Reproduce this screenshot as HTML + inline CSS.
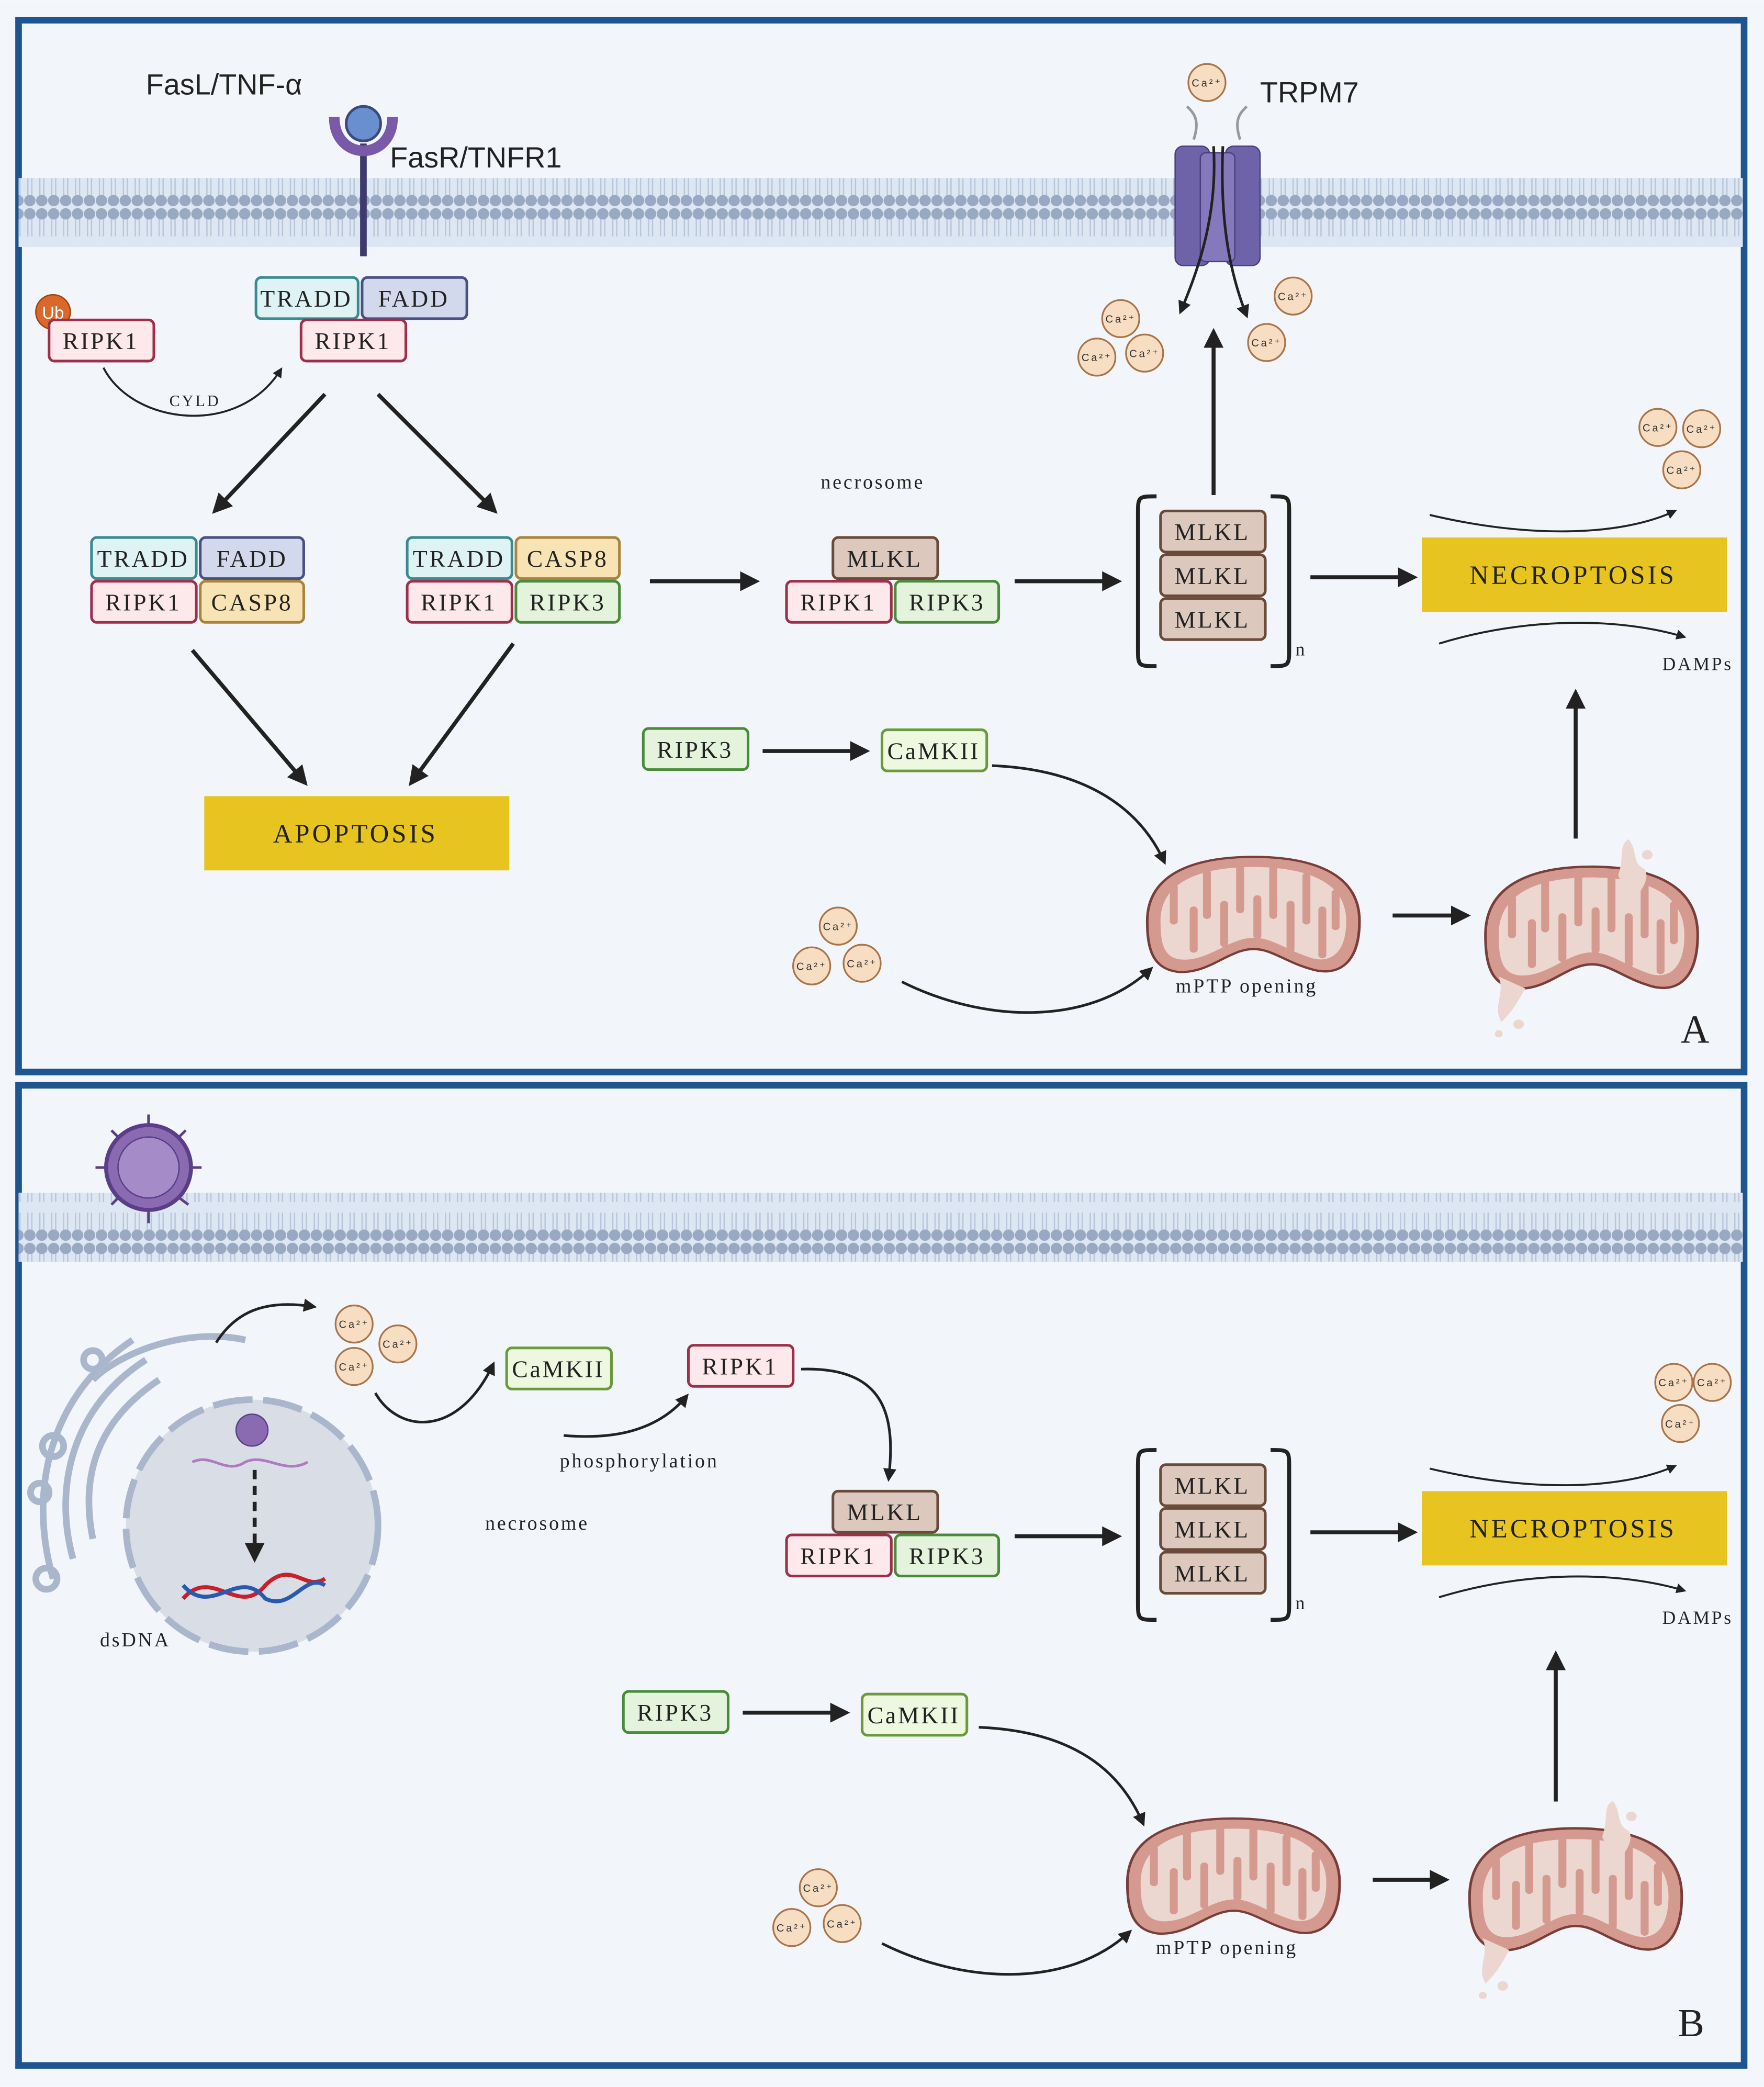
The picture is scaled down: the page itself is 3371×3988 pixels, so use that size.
<!DOCTYPE html>
<html><head><meta charset="utf-8"><style>html,body{margin:0;padding:0;background:#fff}svg{display:block}</style></head>
<body>
<svg xmlns="http://www.w3.org/2000/svg" width="3371" height="3988" viewBox="0 0 1330 1573">
<defs>
<marker id="ah" viewBox="0 0 10 10" refX="8" refY="5" markerWidth="5" markerHeight="5" orient="auto-start-reverse" markerUnits="strokeWidth"><path d="M0,0 L10,5 L0,10 z" fill="#222"/></marker>
<pattern id="mem" x="0" y="0" width="9" height="52" patternUnits="userSpaceOnUse">
<rect width="9" height="52" fill="#dde7f3"/>
<line x1="3" y1="8" x2="3" y2="22" stroke="#b9c6d9" stroke-width="1"/>
<line x1="6" y1="8" x2="6" y2="22" stroke="#b9c6d9" stroke-width="1"/>
<line x1="3" y1="30" x2="3" y2="44" stroke="#b9c6d9" stroke-width="1"/>
<line x1="6" y1="30" x2="6" y2="44" stroke="#b9c6d9" stroke-width="1"/>
<circle cx="4.5" cy="5" r="4.3" fill="#9aa9c2"/>
<circle cx="4.5" cy="47" r="4.3" fill="#9aa9c2"/>
</pattern>
<g id="mito">
<path d="M-80,5 C-80,-40 -40,-52 0,-52 C40,-52 80,-40 80,5 C80,45 62,55 42,47 C22,40 12,28 -3,30 C-20,32 -35,52 -57,50 C-76,47 -80,30 -80,5Z" fill="#d49a90" stroke="#7a3e3a" stroke-width="2"/>
<path d="M-70,5 C-70,-33 -35,-43 0,-43 C35,-43 70,-33 70,5 C70,36 56,43 42,37 C22,29 12,18 -3,20 C-20,22 -35,41 -55,39 C-68,37 -70,24 -70,5Z" fill="#ecd6d0"/>
<g stroke="#d49a90" stroke-width="6" stroke-linecap="round" fill="none">
<line x1="-60" y1="-25" x2="-60" y2="5"/><line x1="-45" y1="30" x2="-45" y2="-5"/><line x1="-35" y1="-38" x2="-35" y2="0"/><line x1="-22" y1="25" x2="-22" y2="-10"/><line x1="-10" y1="-42" x2="-10" y2="-5"/><line x1="3" y1="18" x2="3" y2="-15"/><line x1="15" y1="-42" x2="15" y2="0"/><line x1="28" y1="30" x2="28" y2="-10"/><line x1="40" y1="-35" x2="40" y2="5"/><line x1="52" y1="35" x2="52" y2="-5"/><line x1="62" y1="-20" x2="62" y2="10"/>
</g>
</g>
<g id="dmito">
<use href="#mito"/>
<path d="M20,-45 C25,-60 20,-70 28,-75 C35,-65 30,-55 40,-50 C45,-40 35,-30 30,-20 Z" fill="#ecd6d0"/>
<path d="M-70,40 C-65,55 -75,65 -68,78 C-60,70 -55,60 -50,50 Z" fill="#ecd6d0"/>
<circle cx="-70" cy="88" r="3" fill="#ecd6d0"/><circle cx="-55" cy="80" r="4" fill="#ecd6d0"/><circle cx="42" cy="-62" r="4" fill="#ecd6d0"/>
</g>
<g id="ca"><circle r="14" fill="#f7dec3" stroke="#a8744a" stroke-width="1.3"/><text y="3" text-anchor="middle" font-family="Liberation Sans,sans-serif" font-size="8" fill="#333">Ca²⁺</text></g>
</defs>
<rect width="1330" height="1573" fill="#f3f6fb"/>
<rect x="14" y="15" width="1301" height="793" fill="#f2f6fb" stroke="#1d5590" stroke-width="5"/>
<rect x="14" y="818" width="1301" height="739" fill="#f2f6fb" stroke="#1d5590" stroke-width="5"/>
<rect x="14" y="134" width="1300" height="52" fill="url(#mem)"/>
<rect x="14" y="899" width="1300" height="52" fill="url(#mem)"/>

<g font-family="Liberation Serif,serif" font-size="18" letter-spacing="1.5" text-anchor="middle" fill="#222">
<text x="110" y="71" font-family="Liberation Sans,sans-serif" font-size="22" letter-spacing="0" text-anchor="start">FasL/TNF-α</text>
<line x1="274" y1="108" x2="274" y2="193" stroke="#3f3a6e" stroke-width="5"/>
<path d="M252,88 C252,122 296,122 296,88" fill="none" stroke="#7a5aa8" stroke-width="8"/>
<circle cx="274" cy="93" r="13" fill="#6a8fcf" stroke="#3a4a80" stroke-width="2"/>
<text x="294" y="126" font-family="Liberation Sans,sans-serif" font-size="22" letter-spacing="0" text-anchor="start">FasR/TNFR1</text>
<path d="M900,105 C905,90 900,85 895,80 M935,105 C930,90 935,85 940,80" stroke="#999" stroke-width="2" fill="none"/>
<rect x="886" y="110" width="26" height="90" rx="6" fill="#6e62a8" stroke="#4a4080"/>
<rect x="924" y="110" width="26" height="90" rx="6" fill="#6e62a8" stroke="#4a4080"/>
<rect x="905" y="115" width="26" height="82" rx="4" fill="#8578bd" stroke="#4a4080"/>
<path d="M915,110 C918,160 905,200 890,235" stroke="#222" stroke-width="2" fill="none" marker-end="url(#ah)"/>
<path d="M922,110 C920,160 925,200 940,238" stroke="#222" stroke-width="2" fill="none" marker-end="url(#ah)"/>
<text x="950" y="77" font-family="Liberation Sans,sans-serif" font-size="22" letter-spacing="0" text-anchor="start">TRPM7</text>
<use href="#ca" x="910" y="62"/>
<use href="#ca" x="845" y="240"/><use href="#ca" x="827" y="269"/><use href="#ca" x="863" y="266"/>
<use href="#ca" x="975" y="223"/><use href="#ca" x="955" y="258"/>

<circle cx="40" cy="235" r="13" fill="#d9682a" stroke="#a04010"/>
<text x="40" y="240" font-family="Liberation Sans,sans-serif" font-size="13" fill="#fff" letter-spacing="0">Ub</text>
<rect x="37" y="241" width="79" height="31" rx="4" fill="#fde9ec" stroke="#9e2f48" stroke-width="2"/><text x="76" y="263">RIPK1</text>
<rect x="193" y="209" width="77" height="31" rx="4" fill="#dff3f5" stroke="#3a8a90" stroke-width="2"/><text x="231" y="231">TRADD</text>
<rect x="273" y="209" width="79" height="31" rx="4" fill="#d3d9ec" stroke="#4a5080" stroke-width="2"/><text x="312" y="231">FADD</text>
<rect x="227" y="241" width="79" height="31" rx="4" fill="#fde9ec" stroke="#9e2f48" stroke-width="2"/><text x="266" y="263">RIPK1</text>
<path d="M78,277 C100,320 180,330 212,278" stroke="#222" stroke-width="1.5" fill="none" marker-end="url(#ah)"/>
<text x="147" y="306" font-size="12">CYLD</text>
<line x1="245" y1="297" x2="162" y2="385" stroke="#222" stroke-width="3" marker-end="url(#ah)"/>
<line x1="285" y1="297" x2="373" y2="385" stroke="#222" stroke-width="3" marker-end="url(#ah)"/>

<rect x="69" y="405" width="79" height="31" rx="4" fill="#dff3f5" stroke="#3a8a90" stroke-width="2"/><text x="108" y="427">TRADD</text>
<rect x="151" y="405" width="78" height="31" rx="4" fill="#d3d9ec" stroke="#4a5080" stroke-width="2"/><text x="190" y="427">FADD</text>
<rect x="69" y="438" width="79" height="31" rx="4" fill="#fde9ec" stroke="#9e2f48" stroke-width="2"/><text x="108" y="460">RIPK1</text>
<rect x="151" y="438" width="78" height="31" rx="4" fill="#f8e3b5" stroke="#a8843c" stroke-width="2"/><text x="190" y="460">CASP8</text>
<rect x="307" y="405" width="79" height="31" rx="4" fill="#dff3f5" stroke="#3a8a90" stroke-width="2"/><text x="346" y="427">TRADD</text>
<rect x="389" y="405" width="78" height="31" rx="4" fill="#f8e3b5" stroke="#a8843c" stroke-width="2"/><text x="428" y="427">CASP8</text>
<rect x="307" y="438" width="79" height="31" rx="4" fill="#fde9ec" stroke="#9e2f48" stroke-width="2"/><text x="346" y="460">RIPK1</text>
<rect x="389" y="438" width="78" height="31" rx="4" fill="#e4f3dc" stroke="#4a8a3a" stroke-width="2"/><text x="428" y="460">RIPK3</text>
<line x1="145" y1="490" x2="230" y2="590" stroke="#222" stroke-width="3" marker-end="url(#ah)"/>
<line x1="387" y1="485" x2="310" y2="590" stroke="#222" stroke-width="3" marker-end="url(#ah)"/>
<rect x="154" y="600" width="230" height="56" fill="#e7c41f"/><text x="268" y="635" font-size="20" letter-spacing="2">APOPTOSIS</text>

<line x1="490" y1="438" x2="570" y2="438" stroke="#222" stroke-width="3" marker-end="url(#ah)"/>
<text x="658" y="368" font-size="15">necrosome</text>
<rect x="628" y="405" width="79" height="31" rx="4" fill="#dcc8bd" stroke="#6a4a3a" stroke-width="2"/><text x="667" y="427">MLKL</text>
<rect x="593" y="438" width="79" height="31" rx="4" fill="#fde9ec" stroke="#9e2f48" stroke-width="2"/><text x="632" y="460">RIPK1</text>
<rect x="675" y="438" width="78" height="31" rx="4" fill="#e4f3dc" stroke="#4a8a3a" stroke-width="2"/><text x="714" y="460">RIPK3</text>
<line x1="765" y1="438" x2="843" y2="438" stroke="#222" stroke-width="3" marker-end="url(#ah)"/>
<path d="M872,374 C858,374 858,374 858,388 L858,488 C858,502 858,502 872,502" stroke="#222" stroke-width="3" fill="none"/>
<path d="M958,374 C972,374 972,374 972,388 L972,488 C972,502 972,502 958,502" stroke="#222" stroke-width="3" fill="none"/>
<rect x="875" y="385" width="79" height="31" rx="4" fill="#dcc8bd" stroke="#6a4a3a" stroke-width="2"/><text x="914" y="407">MLKL</text>
<rect x="875" y="418" width="79" height="31" rx="4" fill="#dcc8bd" stroke="#6a4a3a" stroke-width="2"/><text x="914" y="440">MLKL</text>
<rect x="875" y="451" width="79" height="31" rx="4" fill="#dcc8bd" stroke="#6a4a3a" stroke-width="2"/><text x="914" y="473">MLKL</text>
<text x="981" y="494" font-size="14">n</text>
<line x1="915" y1="373" x2="915" y2="250" stroke="#222" stroke-width="3" marker-end="url(#ah)"/>
<line x1="988" y1="435" x2="1066" y2="435" stroke="#222" stroke-width="3" marker-end="url(#ah)"/>
<rect x="1072" y="405" width="230" height="56" fill="#e7c41f"/><text x="1186" y="440" font-size="20" letter-spacing="2">NECROPTOSIS</text>
<path d="M1078,388 C1150,405 1220,405 1263,385" stroke="#222" stroke-width="1.5" fill="none" marker-end="url(#ah)"/>
<path d="M1085,485 C1150,465 1220,465 1270,480" stroke="#222" stroke-width="1.5" fill="none" marker-end="url(#ah)"/>
<text x="1280" y="505" font-size="14">DAMPs</text>
<use href="#ca" x="1250" y="322"/><use href="#ca" x="1283" y="323"/><use href="#ca" x="1268" y="354"/>

<rect x="485" y="549" width="79" height="31" rx="4" fill="#e4f3dc" stroke="#4a8a3a" stroke-width="2"/><text x="524" y="571">RIPK3</text>
<line x1="575" y1="566" x2="653" y2="566" stroke="#222" stroke-width="3" marker-end="url(#ah)"/>
<rect x="665" y="550" width="79" height="31" rx="4" fill="#eef7df" stroke="#6a9a3a" stroke-width="2"/><text x="704" y="572">CaMKII</text>
<path d="M748,577 C820,580 860,610 878,650" stroke="#222" stroke-width="2" fill="none" marker-end="url(#ah)"/>
<use href="#mito" transform="translate(945,690) scale(1,0.85)"/>
<use href="#ca" x="632" y="698"/><use href="#ca" x="612" y="728"/><use href="#ca" x="650" y="726"/>
<path d="M680,740 C740,770 820,775 868,730" stroke="#222" stroke-width="2" fill="none" marker-end="url(#ah)"/>
<text x="940" y="748" font-size="15">mPTP opening</text>
<line x1="1050" y1="690" x2="1106" y2="690" stroke="#222" stroke-width="3" marker-end="url(#ah)"/>
<use href="#dmito" transform="translate(1200,700) scale(1,0.9)"/>
<line x1="1188" y1="632" x2="1188" y2="522" stroke="#222" stroke-width="3" marker-end="url(#ah)"/>
<text x="1278" y="786" font-size="30" letter-spacing="0">A</text>

<circle cx="112" cy="880" r="32" fill="#8a6ab0" stroke="#5a3e88" stroke-width="3"/>
<circle cx="112" cy="880" r="23" fill="#a58bc8" stroke="#5a3e88"/>
<g stroke="#5a3e88" stroke-width="2"><line x1="112" y1="848" x2="112" y2="840"/><line x1="112" y1="912" x2="112" y2="922"/><line x1="80" y1="880" x2="72" y2="880"/><line x1="144" y1="880" x2="152" y2="880"/><line x1="90" y1="858" x2="84" y2="852"/><line x1="134" y1="858" x2="140" y2="852"/><line x1="90" y1="902" x2="84" y2="908"/><line x1="134" y1="902" x2="142" y2="908"/></g>
<g fill="none" stroke="#a9b6cb" stroke-width="5">
<path d="M40,1190 C20,1120 40,1050 100,1010"/><path d="M55,1175 C40,1120 55,1060 110,1025"/><path d="M70,1160 C60,1110 75,1070 120,1040"/><path d="M70,1040 C90,1020 140,1000 185,1010"/>
<circle cx="40" cy="1090" r="8"/><circle cx="30" cy="1125" r="7"/><circle cx="35" cy="1190" r="8"/><circle cx="70" cy="1025" r="7"/>
</g>
<circle cx="190" cy="1150" r="95" fill="#d8dde6" stroke="#a9b6cb" stroke-width="5" stroke-dasharray="30,8"/>
<circle cx="190" cy="1078" r="12" fill="#8a6ab0" stroke="#5a3e88"/>
<path d="M145,1102 C160,1095 170,1112 185,1102 C200,1095 215,1112 232,1102" stroke="#b07ac0" stroke-width="2" fill="none"/>
<line x1="192" y1="1108" x2="192" y2="1175" stroke="#222" stroke-width="3" stroke-dasharray="7,5" marker-end="url(#ah)"/>
<path d="M138,1205 C160,1180 180,1220 200,1195 C220,1175 230,1200 245,1190" stroke="#c8202a" stroke-width="3" fill="none"/>
<path d="M138,1195 C160,1220 180,1180 200,1205 C220,1215 230,1185 245,1195" stroke="#2a5ab0" stroke-width="3" fill="none"/>
<text x="102" y="1241" font-size="15">dsDNA</text>
<use href="#ca" x="267" y="998"/><use href="#ca" x="300" y="1013"/><use href="#ca" x="267" y="1030"/>
<path d="M163,1012 C180,985 205,980 237,985" stroke="#222" stroke-width="2" fill="none" marker-end="url(#ah)"/>
<path d="M283,1050 C300,1080 345,1085 372,1028" stroke="#222" stroke-width="2" fill="none" marker-end="url(#ah)"/>
<rect x="382" y="1016" width="79" height="31" rx="4" fill="#eef7df" stroke="#6a9a3a" stroke-width="2"/><text x="421" y="1038">CaMKII</text>
<path d="M425,1082 C460,1085 495,1080 518,1052" stroke="#222" stroke-width="2" fill="none" marker-end="url(#ah)"/>
<text x="482" y="1106" font-size="15">phosphorylation</text>
<rect x="519" y="1014" width="79" height="31" rx="4" fill="#fde9ec" stroke="#9e2f48" stroke-width="2"/><text x="558" y="1036">RIPK1</text>
<path d="M604,1032 C670,1030 675,1070 670,1115" stroke="#222" stroke-width="2" fill="none" marker-end="url(#ah)"/>
<text x="405" y="1153" font-size="15">necrosome</text>
<rect x="628" y="1124" width="79" height="31" rx="4" fill="#dcc8bd" stroke="#6a4a3a" stroke-width="2"/><text x="667" y="1146">MLKL</text>
<rect x="593" y="1157" width="79" height="31" rx="4" fill="#fde9ec" stroke="#9e2f48" stroke-width="2"/><text x="632" y="1179">RIPK1</text>
<rect x="675" y="1157" width="78" height="31" rx="4" fill="#e4f3dc" stroke="#4a8a3a" stroke-width="2"/><text x="714" y="1179">RIPK3</text>
<line x1="765" y1="1158" x2="843" y2="1158" stroke="#222" stroke-width="3" marker-end="url(#ah)"/>
<path d="M872,1093 C858,1093 858,1093 858,1107 L858,1207 C858,1221 858,1221 872,1221" stroke="#222" stroke-width="3" fill="none"/>
<path d="M958,1093 C972,1093 972,1093 972,1107 L972,1207 C972,1221 972,1221 958,1221" stroke="#222" stroke-width="3" fill="none"/>
<rect x="875" y="1104" width="79" height="31" rx="4" fill="#dcc8bd" stroke="#6a4a3a" stroke-width="2"/><text x="914" y="1126">MLKL</text>
<rect x="875" y="1137" width="79" height="31" rx="4" fill="#dcc8bd" stroke="#6a4a3a" stroke-width="2"/><text x="914" y="1159">MLKL</text>
<rect x="875" y="1170" width="79" height="31" rx="4" fill="#dcc8bd" stroke="#6a4a3a" stroke-width="2"/><text x="914" y="1192">MLKL</text>
<text x="981" y="1213" font-size="14">n</text>
<line x1="988" y1="1155" x2="1066" y2="1155" stroke="#222" stroke-width="3" marker-end="url(#ah)"/>
<rect x="1072" y="1124" width="230" height="56" fill="#e7c41f"/><text x="1186" y="1159" font-size="20" letter-spacing="2">NECROPTOSIS</text>
<path d="M1078,1107 C1150,1124 1220,1124 1263,1105" stroke="#222" stroke-width="1.5" fill="none" marker-end="url(#ah)"/>
<path d="M1085,1204 C1150,1184 1220,1184 1270,1199" stroke="#222" stroke-width="1.5" fill="none" marker-end="url(#ah)"/>
<text x="1280" y="1224" font-size="14">DAMPs</text>
<use href="#ca" x="1262" y="1042"/><use href="#ca" x="1291" y="1042"/><use href="#ca" x="1267" y="1073"/>

<rect x="470" y="1275" width="79" height="31" rx="4" fill="#e4f3dc" stroke="#4a8a3a" stroke-width="2"/><text x="509" y="1297">RIPK3</text>
<line x1="560" y1="1291" x2="638" y2="1291" stroke="#222" stroke-width="3" marker-end="url(#ah)"/>
<rect x="650" y="1277" width="79" height="31" rx="4" fill="#eef7df" stroke="#6a9a3a" stroke-width="2"/><text x="689" y="1299">CaMKII</text>
<path d="M738,1302 C810,1305 845,1335 862,1375" stroke="#222" stroke-width="2" fill="none" marker-end="url(#ah)"/>
<use href="#mito" transform="translate(930,1415) scale(1,0.85)"/>
<use href="#ca" x="617" y="1423"/><use href="#ca" x="597" y="1453"/><use href="#ca" x="635" y="1450"/>
<path d="M665,1465 C725,1495 805,1500 852,1456" stroke="#222" stroke-width="2" fill="none" marker-end="url(#ah)"/>
<text x="925" y="1473" font-size="15">mPTP opening</text>
<line x1="1035" y1="1417" x2="1090" y2="1417" stroke="#222" stroke-width="3" marker-end="url(#ah)"/>
<use href="#dmito" transform="translate(1188,1425) scale(1,0.9)"/>
<line x1="1173" y1="1358" x2="1173" y2="1247" stroke="#222" stroke-width="3" marker-end="url(#ah)"/>
<text x="1275" y="1535" font-size="30" letter-spacing="0">B</text>
</g>
</svg>
</body></html>
